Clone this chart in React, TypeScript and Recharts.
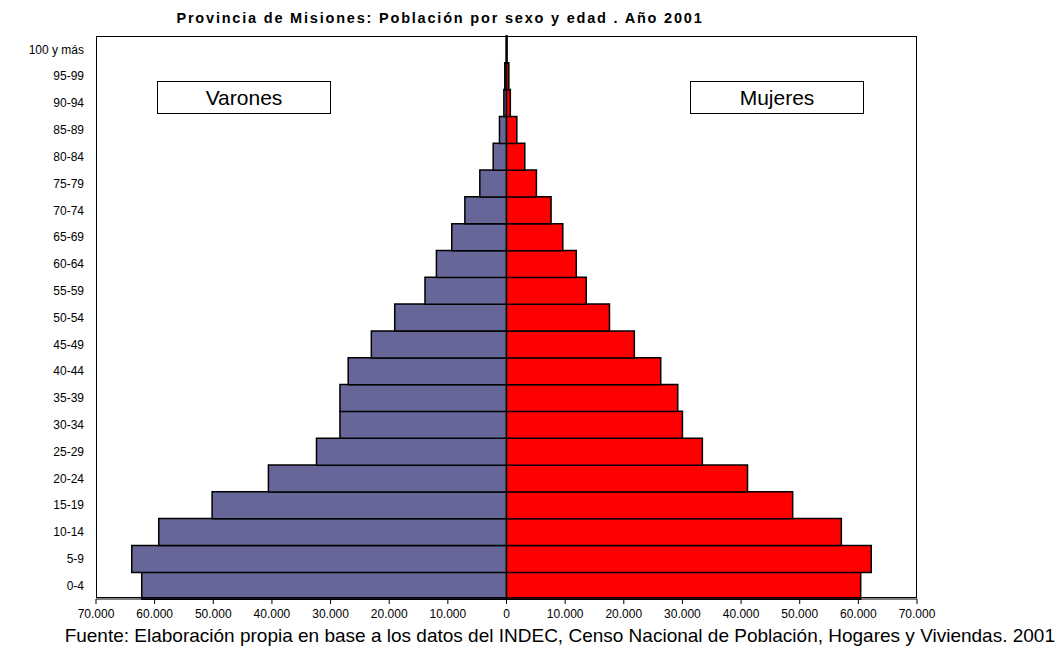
import { Bar, BarChart, ReferenceLine, XAxis, YAxis } from "recharts";

const ageGroups = [
  "0-4", "5-9", "10-14", "15-19", "20-24", "25-29", "30-34", "35-39", "40-44", "45-49",
  "50-54", "55-59", "60-64", "65-69", "70-74", "75-79", "80-84", "85-89", "90-94", "95-99", "100 y más",
];
const varones = [
  62200, 63900, 59300, 50200, 40600, 32400, 28400, 28400, 27000, 23050,
  19060, 13900, 11950, 9330, 7100, 4550, 2270, 1200, 450, 300, 60,
];
const mujeres = [
  60400, 62200, 57100, 48800, 41100, 33400, 30000, 29200, 26300, 21800,
  17560, 13600, 11900, 9600, 7600, 5100, 3120, 1760, 650, 400, 100,
];
const xTicks = [-70000, -60000, -50000, -40000, -30000, -20000, -10000, 0, 10000, 20000, 30000, 40000, 50000, 60000, 70000];

const data = ageGroups.map((age, i) => ({ age, varones: -varones[i], mujeres: mujeres[i] }));

const FONT = "'Liberation Sans', Arial, sans-serif";

// 70000 -> "70.000"
const fmt = (v: number) => String(Math.abs(v)).replace(/\B(?=(\d{3})+(?!\d))/g, ".");

const labelBox = (left: number): React.CSSProperties => ({
  position: "absolute",
  left,
  top: 81,
  width: 172,
  height: 31,
  border: "1.5px solid #000",
  background: "#fff",
  fontSize: 21,
  lineHeight: "31px",
  textAlign: "center",
});

const App = () => (
  <div style={ { position: "absolute", left: 0, top: 0, width: 1058, height: 653, background: "#fff", fontFamily: FONT, color: "#000" } }>
    <div style={ { position: "absolute", left: 0, width: 880, top: 10, textAlign: "center", fontSize: 14.5, fontWeight: "bold", letterSpacing: 1.8 } }>
      Provincia de Misiones: Población por sexo y edad . Año 2001
    </div>

    <BarChart
      width={ 1058 }
      height={ 653 }
      data={ data }
      layout="vertical"
      stackOffset="sign"
      barCategoryGap={ 0 }
      margin={ { top: 36, right: 141, bottom: 24, left: 0 } }
    >
      <XAxis
        type="number"
        domain={ [-70000, 70000] }
        ticks={ xTicks }
        tickFormatter={ fmt }
        height={ 30 }
        tickSize={ 5 }
        tickMargin={ 5 }
        stroke="#000"
        tick={ { fill: "#000", fontSize: 12, fontFamily: FONT } }
      />
      <YAxis
        type="category"
        dataKey="age"
        reversed
        width={ 96 }
        axisLine={ false }
        tickLine={ false }
        tickSize={ 0 }
        tickMargin={ 12 }
        interval={ 0 }
        tick={ { fill: "#000", fontSize: 12, fontFamily: FONT } }
      />
      <ReferenceLine x={ 0 } stroke="#000" strokeWidth={ 1 }/>
      <Bar dataKey="varones" stackId="p" fill="#666699" stroke="#000" strokeWidth={ 1.5 } isAnimationActive={ false }/>
      <Bar dataKey="mujeres" stackId="p" fill="#FF0000" stroke="#000" strokeWidth={ 1.5 } isAnimationActive={ false }/>
    </BarChart>

    <div style={ { position: "absolute", left: 96, top: 36, width: 821, height: 562, border: "1px solid #000", boxSizing: "border-box", pointerEvents: "none" } }/>

    <div style={ labelBox(157) }>Varones</div>
    <div style={ labelBox(690) }>Mujeres</div>

    <div style={ { position: "absolute", right: 3, top: 625, fontSize: 19, whiteSpace: "nowrap" } }>
      Fuente: Elaboración propia en base a los datos del INDEC, Censo Nacional de Población, Hogares y Viviendas. 2001
    </div>
  </div>
);

export default App;
